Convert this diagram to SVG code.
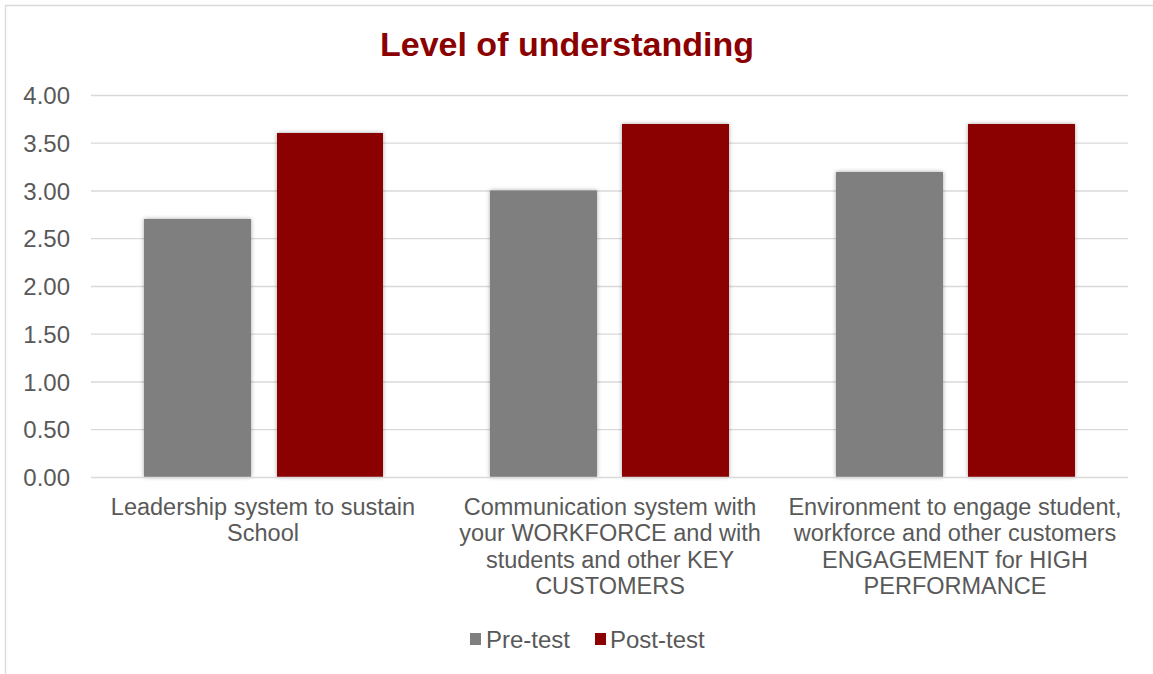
<svg xmlns="http://www.w3.org/2000/svg" width="1153" height="674" viewBox="0 0 1153 674">
<defs>
<filter id="sh" x="-10%" y="-10%" width="120%" height="120%">
<feDropShadow dx="0" dy="0" stdDeviation="2" flood-color="#000" flood-opacity="0.35"/>
</filter>
<style>
.ax{font-family:"Liberation Sans",Arial,sans-serif;font-size:24px;fill:#595959;text-anchor:end}
.cat{font-family:"Liberation Sans",Arial,sans-serif;font-size:23.5px;fill:#595959;text-anchor:middle}
.leg{font-family:"Liberation Sans",Arial,sans-serif;font-size:24px;fill:#595959}
.grid{stroke:#d9d9d9;stroke-width:1.3}
.pre{fill:#7f7f7f}
.post{fill:#8b0000}
</style>
</defs>
<rect x="0" y="0" width="1153" height="674" fill="#fff"/>
<path d="M5.5 674 V5.5 H1153" fill="none" stroke="#d9d9d9" stroke-width="1.3"/>
<text x="567" y="56" font-family="Liberation Sans,Arial,sans-serif" font-size="34" font-weight="bold" fill="#8b0000" text-anchor="middle">Level of understanding</text>
<g id="grid">
<line class="grid" x1="91" y1="95.5" x2="1128" y2="95.5"/>
<line class="grid" x1="91" y1="143.2" x2="1128" y2="143.2"/>
<line class="grid" x1="91" y1="191" x2="1128" y2="191"/>
<line class="grid" x1="91" y1="238.7" x2="1128" y2="238.7"/>
<line class="grid" x1="91" y1="286.5" x2="1128" y2="286.5"/>
<line class="grid" x1="91" y1="334.2" x2="1128" y2="334.2"/>
<line class="grid" x1="91" y1="382" x2="1128" y2="382"/>
<line class="grid" x1="91" y1="429.7" x2="1128" y2="429.7"/>
</g>
<g id="yaxis">
<text class="ax" x="70" y="104">4.00</text>
<text class="ax" x="70" y="152">3.50</text>
<text class="ax" x="70" y="199.5">3.00</text>
<text class="ax" x="70" y="247">2.50</text>
<text class="ax" x="70" y="295">2.00</text>
<text class="ax" x="70" y="343">1.50</text>
<text class="ax" x="70" y="390.5">1.00</text>
<text class="ax" x="70" y="438">0.50</text>
<text class="ax" x="70" y="486">0.00</text>
</g>
<g id="bars" filter="url(#sh)">
<rect class="pre" x="144" y="219" width="107" height="258"/>
<rect class="post" x="277" y="133" width="106" height="344"/>
<rect class="pre" x="490" y="190.5" width="107" height="286.5"/>
<rect class="post" x="622" y="124" width="107" height="353"/>
<rect class="pre" x="836" y="172" width="107" height="305"/>
<rect class="post" x="968" y="124" width="107" height="353"/>
</g>
<line class="grid" x1="91" y1="477.5" x2="1128" y2="477.5" stroke-width="1.5"/>
<g id="categories">
<text class="cat" x="263" y="515">Leadership system to sustain</text>
<text class="cat" x="263" y="541">School</text>
<text class="cat" x="610" y="515">Communication system with</text>
<text class="cat" x="610" y="541">your WORKFORCE and with</text>
<text class="cat" x="610" y="568">students and other KEY</text>
<text class="cat" x="610" y="594">CUSTOMERS</text>
<text class="cat" x="955" y="515">Environment to engage student,</text>
<text class="cat" x="955" y="541">workforce and other customers</text>
<text class="cat" x="955" y="568">ENGAGEMENT for HIGH</text>
<text class="cat" x="955" y="594">PERFORMANCE</text>
</g>
<g id="legend">
<rect class="pre" x="470" y="633" width="11" height="12"/>
<text class="leg" x="486" y="648">Pre-test</text>
<rect class="post" x="595" y="633" width="11" height="12"/>
<text class="leg" x="610" y="648">Post-test</text>
</g>
</svg>
